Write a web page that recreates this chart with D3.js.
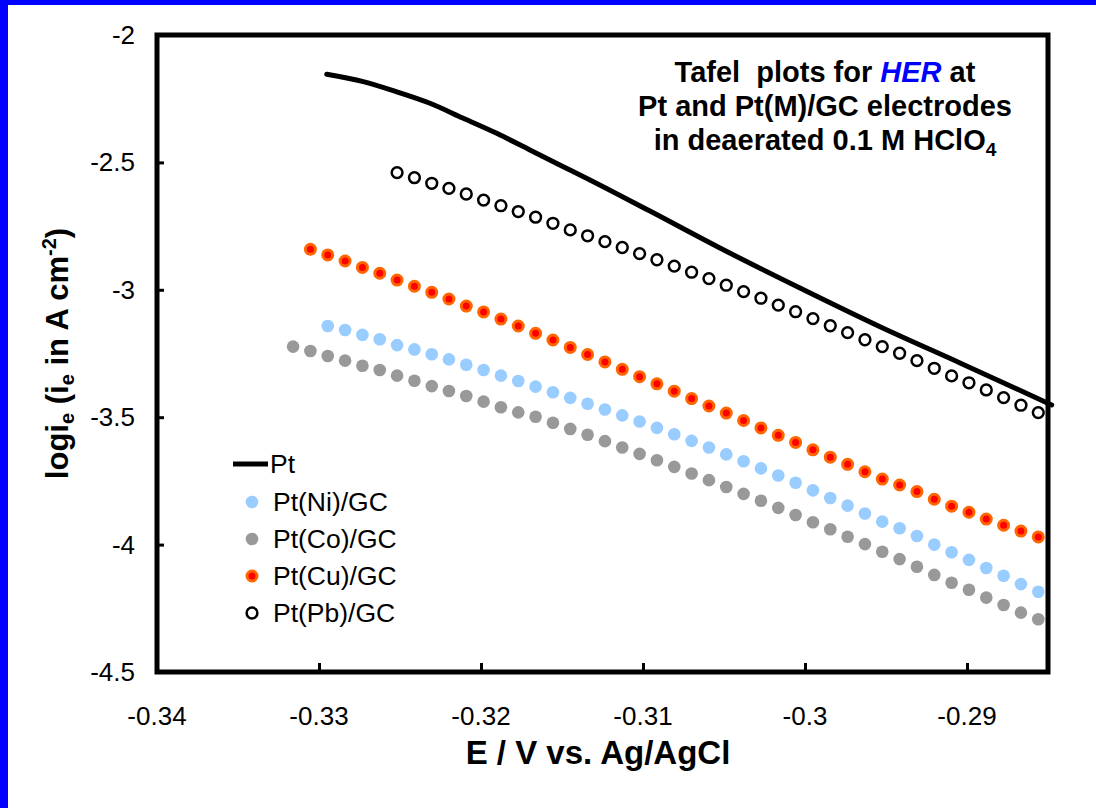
<!DOCTYPE html>
<html>
<head>
<meta charset="utf-8">
<script src="https://cdn.jsdelivr.net/npm/d3@7"></script>
<style>
  html, body { margin: 0; padding: 0; background: #fff; }
  svg { display: block; }
  text { font-family: "Liberation Sans", Arial, sans-serif; }
</style>
</head>
<body>
<svg id="chart" width="1096" height="808"></svg>
<script>
// Electrode potential grid (V vs. Ag/AgCl) shared by the point series
const potential = [
  -0.33160, -0.33053, -0.32946, -0.32839, -0.32732, -0.32625, -0.32518, -0.32411,
  -0.32304, -0.32198, -0.32091, -0.31984, -0.31877, -0.31770, -0.31663, -0.31556,
  -0.31449, -0.31342, -0.31235, -0.31128, -0.31021, -0.30914, -0.30807, -0.30700,
  -0.30593, -0.30486, -0.30379, -0.30272, -0.30165, -0.30058, -0.29951, -0.29844,
  -0.29737, -0.29630, -0.29523, -0.29416, -0.29309, -0.29202, -0.29095, -0.28988,
  -0.28881, -0.28774, -0.28667, -0.28560
];

// Pt(Co)/GC, all 44 potentials
const coLogI = [
  -3.223, -3.240, -3.260, -3.278, -3.298, -3.315, -3.337, -3.357, -3.378, -3.397,
  -3.417, -3.439, -3.461, -3.481, -3.498, -3.522, -3.546, -3.569, -3.594, -3.619,
  -3.644, -3.669, -3.695, -3.721, -3.747, -3.774, -3.801, -3.828, -3.856, -3.884,
  -3.912, -3.940, -3.969, -3.998, -4.028, -4.057, -4.087, -4.119, -4.150, -4.177,
  -4.208, -4.237, -4.267, -4.293
];

// Pt(Cu)/GC, last 43 potentials
const cuLogI = [
  -2.841, -2.863, -2.887, -2.912, -2.935, -2.962, -2.986, -3.010, -3.036, -3.064,
  -3.087, -3.115, -3.142, -3.171, -3.197, -3.226, -3.254, -3.283, -3.312, -3.341,
  -3.369, -3.398, -3.427, -3.456, -3.484, -3.513, -3.542, -3.571, -3.599, -3.628,
  -3.657, -3.685, -3.714, -3.743, -3.766, -3.792, -3.822, -3.849, -3.873, -3.900,
  -3.924, -3.947, -3.970
];

// Pt(Ni)/GC, last 42 potentials
const niLogI = [
  -3.142, -3.158, -3.177, -3.194, -3.217, -3.234, -3.253, -3.273, -3.294, -3.315,
  -3.337, -3.358, -3.380, -3.402, -3.424, -3.447, -3.470, -3.493, -3.517, -3.542,
  -3.567, -3.593, -3.619, -3.646, -3.673, -3.701, -3.729, -3.757, -3.787, -3.817,
  -3.847, -3.878, -3.910, -3.936, -3.966, -4.000, -4.030, -4.060, -4.092, -4.122,
  -4.155, -4.185
];

// Pt(Pb)/GC, last 38 potentials
const pbLogI = [
  -2.540, -2.560, -2.582, -2.602, -2.624, -2.648, -2.670, -2.693, -2.715, -2.739,
  -2.765, -2.788, -2.811, -2.834, -2.858, -2.882, -2.907, -2.931, -2.956, -2.982,
  -3.007, -3.033, -3.060, -3.086, -3.113, -3.141, -3.168, -3.196, -3.223, -3.249,
  -3.278, -3.308, -3.338, -3.365, -3.393, -3.423, -3.453, -3.482
];

// Bulk Pt, continuous curve
const ptPotential = [
  -0.32952, -0.32727, -0.32520, -0.32315, -0.32109, -0.31903, -0.31698, -0.31492,
  -0.31389, -0.30957, -0.30525, -0.30031, -0.29537, -0.29043, -0.28477
];
const ptLogI = [
  -2.154, -2.183, -2.223, -2.268, -2.327, -2.386, -2.451, -2.517,
  -2.549, -2.691, -2.836, -2.993, -3.145, -3.287, -3.452
];

const xTicks = [-0.34, -0.33, -0.32, -0.31, -0.30, -0.29];
const xTickLabels = ["-0.34", "-0.33", "-0.32", "-0.31", "-0.3", "-0.29"];
const yTicks = [-2, -2.5, -3, -3.5, -4, -4.5];
const yTickLabels = ["-2", "-2.5", "-3", "-3.5", "-4", "-4.5"];

const legendLabels = ["Pt", "Pt(Ni)/GC", "Pt(Co)/GC", "Pt(Cu)/GC", "Pt(Pb)/GC"];

const svg = d3.select("#chart");

// frame decoration
svg.append("rect").attr("x", 0).attr("y", 0).attr("width", 8).attr("height", 808).attr("fill", "#0000ff");
svg.append("rect").attr("x", 0).attr("y", 0).attr("width", 1096).attr("height", 5).attr("fill", "#0000ff");

const plot = { left: 157, right: 1048, top: 35, bottom: 672 };

const x = d3.scaleLinear().domain([-0.34, -0.285]).range([plot.left, plot.right]);
const y = d3.scaleLinear().domain([-4.5, -2]).range([plot.bottom, plot.top]);

// axes with inward ticks
const xAxis = d3.axisBottom(x).tickValues(xTicks).tickSize(-9).tickFormat("");
const gx = svg.append("g").attr("transform", `translate(0,${plot.bottom})`).call(xAxis);
gx.select(".domain").remove();
gx.selectAll(".tick line").attr("stroke", "#000").attr("stroke-width", 3);

const yAxis = d3.axisLeft(y).tickValues(yTicks).tickSize(-7).tickFormat("");
const gy = svg.append("g").attr("transform", `translate(${plot.left},0)`).call(yAxis);
gy.select(".domain").remove();
gy.selectAll(".tick line").attr("stroke", "#000").attr("stroke-width", 3);

// tick labels
svg.append("g").selectAll("text").data(xTicks).join("text")
  .attr("x", d => x(d)).attr("y", 725)
  .attr("text-anchor", "middle").attr("font-size", 26).attr("fill", "#000")
  .text((d, i) => xTickLabels[i]);

svg.append("g").selectAll("text").data(yTicks).join("text")
  .attr("x", 135).attr("y", d => y(d) + 9)
  .attr("text-anchor", "end").attr("font-size", 26).attr("fill", "#000")
  .text((d, i) => yTickLabels[i]);

// plot frame
svg.append("rect")
  .attr("x", plot.left).attr("y", plot.top)
  .attr("width", plot.right - plot.left).attr("height", plot.bottom - plot.top)
  .attr("fill", "none").attr("stroke", "#000").attr("stroke-width", 5);

// axis titles
svg.append("text")
  .attr("x", 598).attr("y", 764)
  .attr("text-anchor", "middle").attr("font-size", 33).attr("font-weight", "bold")
  .text("E / V vs. Ag/AgCl");

const yTitle = svg.append("text")
  .attr("transform", `translate(68,${(plot.top + plot.bottom) / 2}) rotate(-90)`)
  .attr("text-anchor", "middle").attr("font-size", 31).attr("font-weight", "bold");
yTitle.append("tspan").text("logi");
yTitle.append("tspan").attr("font-size", 20).attr("dy", 6).text("e");
yTitle.append("tspan").attr("dy", -6).text(" (i");
yTitle.append("tspan").attr("font-size", 20).attr("dy", 6).text("e");
yTitle.append("tspan").attr("dy", -6).text(" in A cm");
yTitle.append("tspan").attr("font-size", 20).attr("dy", -12).text("-2");
yTitle.append("tspan").attr("dy", 12).text(")");

// annotation block
const title = svg.append("g").attr("font-weight", "bold").attr("font-size", 29).attr("text-anchor", "middle");
const t1 = title.append("text").attr("x", 825).attr("y", 82).style("white-space", "pre");
t1.append("tspan").text("Tafel  plots for ");
t1.append("tspan").attr("fill", "#0000ff").attr("font-style", "italic").text("HER");
t1.append("tspan").text(" at");
title.append("text").attr("x", 825).attr("y", 116).text("Pt and Pt(M)/GC electrodes");
const t3 = title.append("text").attr("x", 825).attr("y", 150);
t3.append("tspan").text("in deaerated 0.1 M HClO");
t3.append("tspan").attr("font-size", 19).attr("dy", 6).text("4");

// marker series
const series = [
  { name: "Pt(Co)/GC", values: coLogI, fill: "#999999", stroke: "none", sw: 0, r: 6.3 },
  { name: "Pt(Ni)/GC", values: niLogI, fill: "#99ccff", stroke: "none", sw: 0, r: 6.3 },
  { name: "Pt(Cu)/GC", values: cuLogI, fill: "#ff0000", stroke: "#ff6600", sw: 3, r: 5 },
  { name: "Pt(Pb)/GC", values: pbLogI, fill: "#ffffff", stroke: "#000000", sw: 2.5, r: 5.4 }
];

series.forEach(s => {
  const offset = potential.length - s.values.length;
  const pts = s.values.map((v, i) => ({ e: potential[offset + i], v }));
  svg.append("g").selectAll("circle").data(pts).join("circle")
    .attr("cx", d => x(d.e)).attr("cy", d => y(d.v)).attr("r", s.r)
    .attr("fill", s.fill).attr("stroke", s.stroke).attr("stroke-width", s.sw);
});

// Pt curve
const ptData = ptPotential.map((e, i) => ({ e, v: ptLogI[i] }));
svg.append("path")
  .datum(ptData)
  .attr("d", d3.line().x(d => x(d.e)).y(d => y(d.v)).curve(d3.curveMonotoneX))
  .attr("fill", "none").attr("stroke", "#000").attr("stroke-width", 5).attr("stroke-linecap", "round");

// legend
const legendY = [464, 502, 539, 576, 613];
const lg = svg.append("g").attr("font-size", 26.5);
lg.append("line").attr("x1", 233).attr("x2", 268).attr("y1", legendY[0]).attr("y2", legendY[0])
  .attr("stroke", "#000").attr("stroke-width", 5);
const legendMarkers = [null, series[1], series[0], series[2], series[3]];
legendLabels.forEach((lab, i) => {
  const m = legendMarkers[i];
  if (m) {
    lg.append("circle").attr("cx", 252).attr("cy", legendY[i]).attr("r", m.r)
      .attr("fill", m.fill).attr("stroke", m.stroke).attr("stroke-width", m.sw);
  }
  lg.append("text").attr("x", i === 0 ? 270 : 273).attr("y", legendY[i] + 9).text(lab);
});
</script>
</body>
</html>
